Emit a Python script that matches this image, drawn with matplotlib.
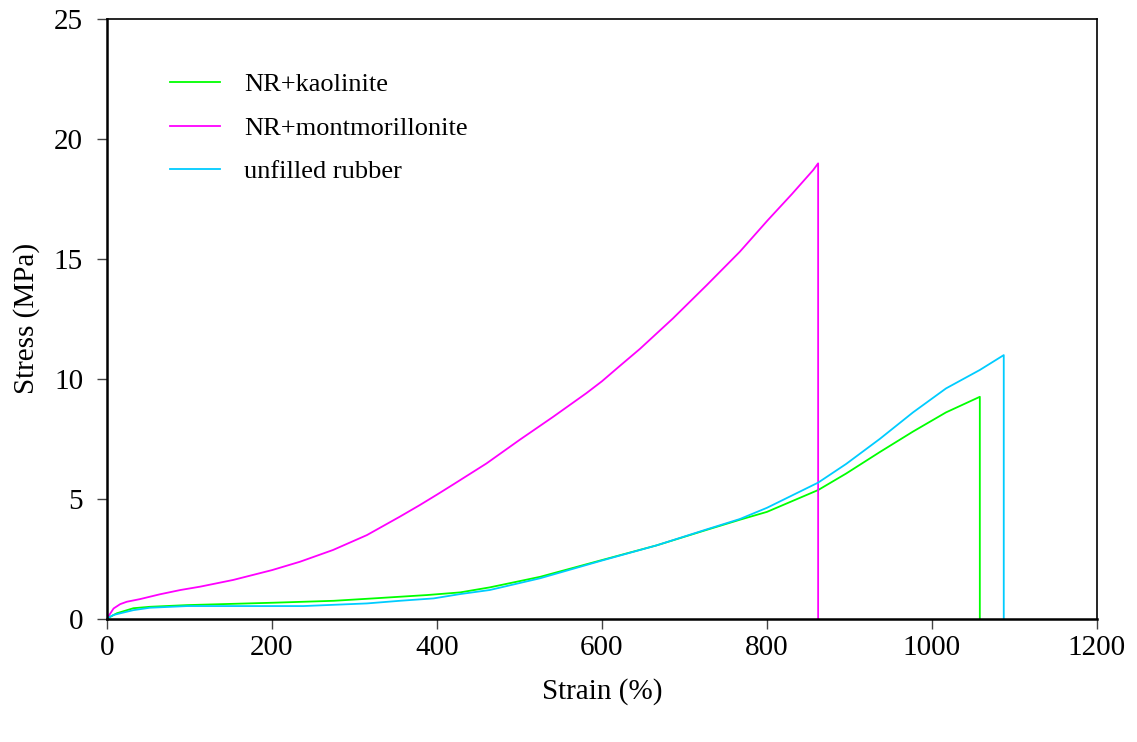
import matplotlib
matplotlib.use("Agg")
import matplotlib.pyplot as plt

plt.rcParams['font.family'] = ['Liberation Serif', 'DejaVu Serif']

# NR + montmorillonite
mont_strain = [0, 8, 16, 24, 40, 64, 89, 113, 153, 200, 234, 274, 315, 355, 379, 400,
               420, 460, 500, 541, 581, 600, 622, 646, 686, 727, 767, 801, 830, 856, 862, 862]
mont_stress = [0, 0.42, 0.60, 0.70, 0.81, 1.01, 1.19, 1.33, 1.61, 2.02, 2.37, 2.86, 3.48, 4.25, 4.73, 5.17,
               5.60, 6.47, 7.45, 8.42, 9.40, 9.90, 10.55, 11.25, 12.52, 13.91, 15.30, 16.62, 17.70, 18.71, 18.99, 0]

# NR + kaolinite
kao_strain = [0, 12, 32, 52, 97, 202, 275, 323, 388, 428, 464, 525, 600, 666, 727,
              767, 800, 862, 896, 937, 977, 1017, 1058, 1058]
kao_stress = [0, 0.22, 0.43, 0.49, 0.56, 0.66, 0.74, 0.84, 0.98, 1.09, 1.30, 1.74, 2.44, 3.05, 3.70,
              4.12, 4.45, 5.36, 6.05, 6.95, 7.80, 8.60, 9.25, 0]

# unfilled rubber
unf_strain = [0, 8, 32, 52, 97, 238, 315, 355, 396, 428, 464, 525, 600, 666, 727,
              767, 800, 862, 896, 937, 977, 1017, 1058, 1087, 1087]
unf_stress = [0, 0.15, 0.35, 0.45, 0.52, 0.52, 0.63, 0.74, 0.84, 1.02, 1.19, 1.68, 2.42, 3.05, 3.72,
              4.15, 4.62, 5.67, 6.45, 7.50, 8.60, 9.60, 10.37, 10.99, 0]

x_ticks = [0, 200, 400, 600, 800, 1000, 1200]
y_ticks = [0, 5, 10, 15, 20, 25]

fig = plt.figure(figsize=(11.37, 7.42), dpi=100)
ax = fig.add_axes([0.0941, 0.1664, 0.8707, 0.8076])

ax.plot(kao_strain, kao_stress, color='#00FF00', lw=1.3, label='NR+kaolinite')
ax.plot(mont_strain, mont_stress, color='#FF00FF', lw=1.3, label='NR+montmorillonite')
ax.plot(unf_strain, unf_stress, color='#00CCFF', lw=1.3, label='unfilled rubber')

ax.set_xlim(0, 1200)
ax.set_ylim(0, 25)
ax.set_xticks(x_ticks)
ax.set_yticks(y_ticks)
ax.tick_params(direction='out', length=7.2, width=1, colors='#444444', labelcolor='black',
               labelsize=21)
ax.tick_params(axis='y', pad=10)
ax.tick_params(axis='x', pad=5)
for s in ax.spines.values():
    s.set_color('black')
    s.set_linewidth(1.2)
ax.spines['bottom'].set_linewidth(1.8)
ax.spines['left'].set_linewidth(1.8)

ax.set_xlabel('Strain (%)', fontsize=21, labelpad=12)
ax.set_ylabel('Stress (MPa)', fontsize=21, labelpad=10)

ax.legend(loc='upper left', bbox_to_anchor=(0.04, 0.95), frameon=False, fontsize=19,
          handlelength=1.9, handletextpad=0.9, labelspacing=0.75)

fig.savefig('out.png', dpi=100)
